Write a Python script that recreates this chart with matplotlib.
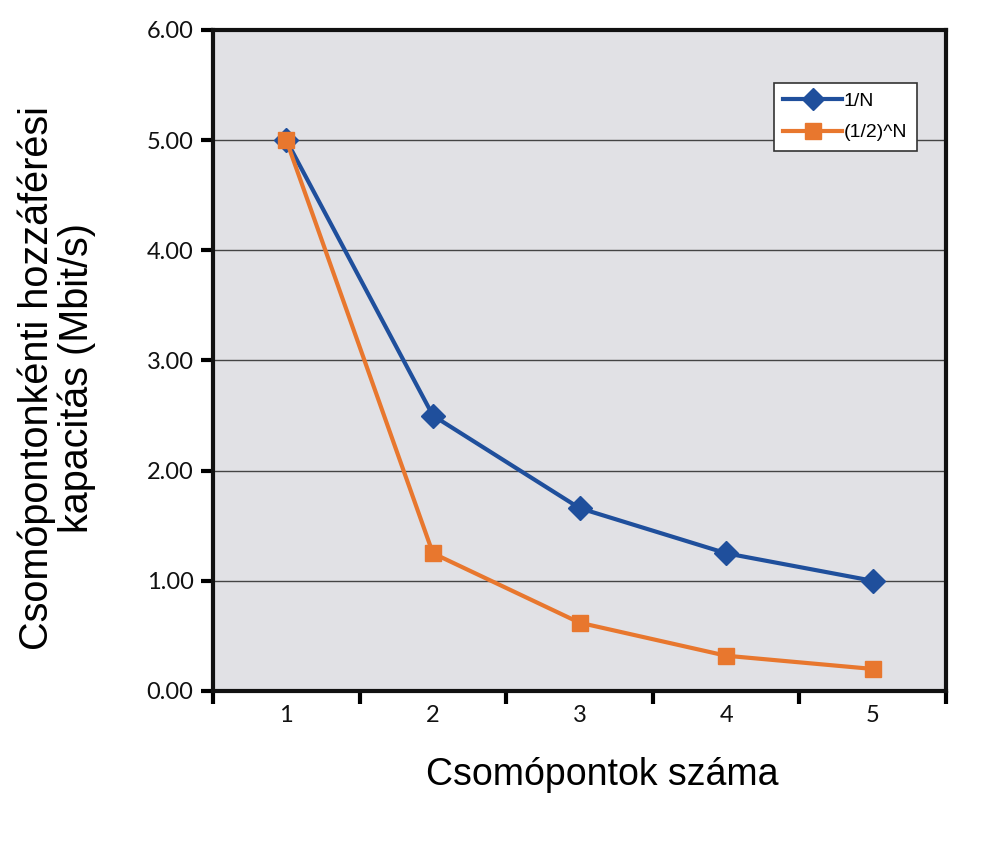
import numpy as np
import matplotlib.pyplot as plt
from matplotlib.ticker import FixedLocator, NullFormatter

nodes = [1, 2, 3, 4, 5]
inv_n = [5.0, 2.5, 1.66, 1.25, 1.0]
half_pow_n = [5.0, 1.25, 0.62, 0.32, 0.2]
y_ticks = [0, 1, 2, 3, 4, 5, 6]

blue = "#1f4f9c"
orange = "#e8772e"

fig = plt.figure(figsize=(9.87, 8.44), dpi=100)
ax = fig.add_axes([0.2158, 0.1813, 0.7427, 0.7832])
ax.set_facecolor("#e1e1e5")

ax.plot(nodes, inv_n, color=blue, lw=3, marker="D", ms=12, label="1/N", zorder=3)
ax.plot(nodes, half_pow_n, color=orange, lw=3, marker="s", ms=12, label="(1/2)^N", zorder=3)

ax.set_xlim(0.5, 5.5)
ax.set_ylim(0, 6)
ax.set_yticks(y_ticks)
ax.set_yticklabels(["%.2f" % v for v in y_ticks], fontfamily="Lato", fontsize=17, color="#111111")
ax.yaxis.grid(True, color="#444444", lw=1)
ax.set_axisbelow(True)

# category labels in the middle, ticks on the boundaries
ax.set_xticks(nodes)
ax.set_xticklabels([str(n) for n in nodes], fontfamily="Lato", fontsize=17, color="#111111")
ax.tick_params(axis="x", which="major", length=0, pad=10)
ax.xaxis.set_minor_locator(FixedLocator(np.arange(0.5, 6.0, 1.0)))
ax.xaxis.set_minor_formatter(NullFormatter())
ax.tick_params(axis="x", which="minor", length=9, width=3, direction="out")
ax.tick_params(axis="y", length=9, width=3, direction="out", pad=5)

for s in ax.spines.values():
    s.set_linewidth(3)
    s.set_color("#111111")

ax.set_xlabel("Csomópontok száma", fontfamily="Liberation Sans", fontsize=27)
ax.xaxis.set_label_coords(0.531, -0.1)
ax.set_ylabel("Csomópontonkénti hozzáférési\nkapacitás (Mbit/s)", fontfamily="Liberation Sans",
              fontsize=28.5, linespacing=1.05)
ax.yaxis.set_label_coords(-0.16, 0.4735)

leg = ax.legend(loc="upper left", bbox_to_anchor=(0.765, 0.92), frameon=True, fancybox=False,
                prop={"family": "Liberation Sans", "size": 14}, handlelength=3.0,
                borderpad=0.5, labelspacing=0.7, handletextpad=0.1, borderaxespad=0,
                framealpha=1)
leg.get_frame().set_edgecolor("#333333")
leg.get_frame().set_facecolor("white")
leg.get_frame().set_linewidth(1.2)
for h in leg.legend_handles:
    h.set_markersize(11)

fig.savefig("out.png", dpi=100)
